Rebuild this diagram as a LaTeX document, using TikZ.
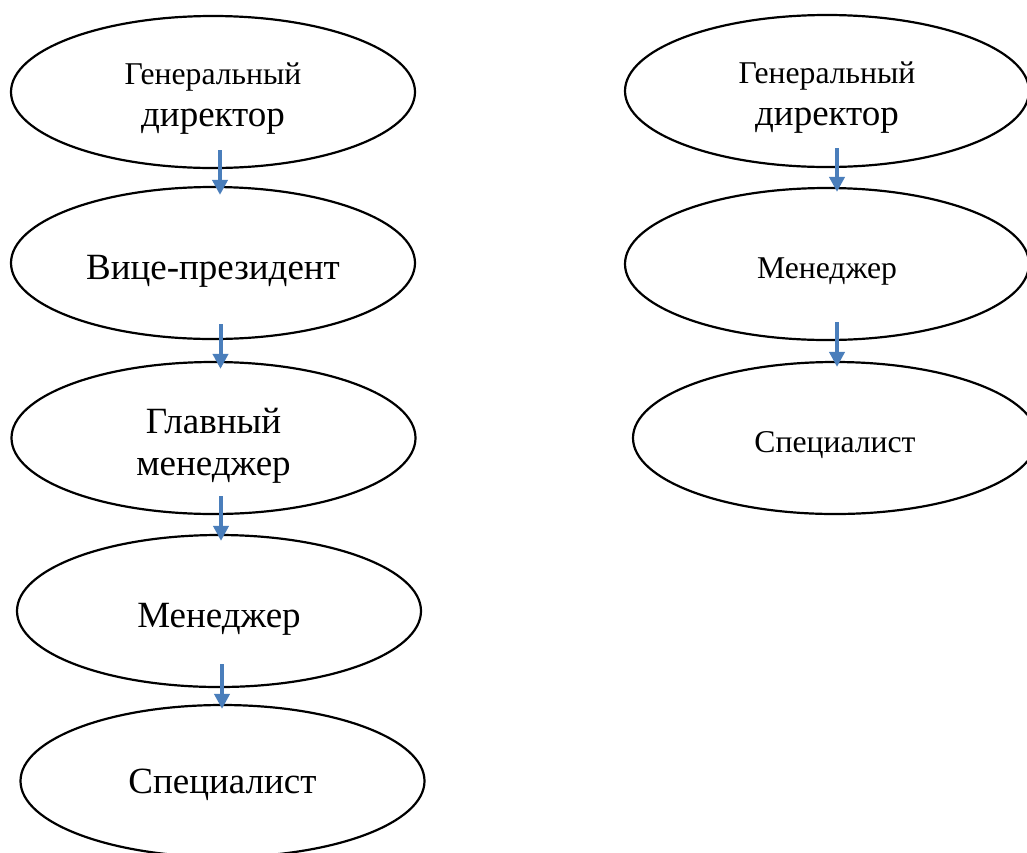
\documentclass[tikz,border=0pt]{standalone}
\usepackage{fontspec}
\setmainfont{Liberation Serif}
\usetikzlibrary{shapes.geometric,arrows.meta,calc}
\newcommand{\smallsz}{\fontsize{31.7}{38}\selectfont}
\newcommand{\bigsz}{\fontsize{37}{42}\selectfont}
\definecolor{arrowblue}{HTML}{4A7EBB}
\tikzset{
  oval/.style={ellipse, draw=black, line width=2.2pt, inner sep=0pt,
    minimum width=404pt, minimum height=152pt},
  txt/.style={align=center, font=\bigsz, inner sep=0pt},
  arr/.style={draw=arrowblue, line width=4pt,
    -{Triangle[length=15pt,width=15pt]}}
}
\begin{document}
\begin{tikzpicture}[x=1pt,y=-1pt]
\useasboundingbox (0,0) rectangle (1027,852);
% left column
\node[oval, label={[txt, yshift=-6.5pt]center:{{\smallsz Генеральный}\\директор}}] (l1) at (213,92) {};
\node[oval, label={[txt, yshift=-8pt]center:Вице-президент}] (l2) at (213,263) {};
\node[oval, label={[txt, yshift=-7.5pt]center:{Главный\\менеджер}}] (l3) at (213.5,438) {};
\node[oval, label={[txt, yshift=-8.5pt]center:Менеджер}] (l4) at (219,611) {};
\node[oval, label={[txt, yshift=-4pt]center:Специалист}] (l5) at (222.5,781) {};
% right column
\node[oval, label={[txt, yshift=-7pt]center:{{\smallsz Генеральный}\\директор}}] (r1) at (827,91) {};
\node[oval, label={[txt, font=\smallsz, yshift=-7pt]center:Менеджер}] (r2) at (827,264) {};
\node[oval, label={[txt, font=\smallsz, yshift=-7pt]center:Специалист}] (r3) at (835,438) {};
% arrows
\draw[arr] ($(l1.south)+(7,-19)$) -- ($(l2.north)+(7,9)$);
\draw[arr] ($(l2.south)+(7.5,-16)$) -- ($(l3.north)+(7,8)$);
\draw[arr] ($(l3.south)+(7.5,-19)$) -- ($(l4.north)+(2,7)$);
\draw[arr] ($(l4.south)+(3,-24)$) -- ($(l5.north)+(-0.5,5)$);
\draw[arr] ($(r1.south)+(10,-20)$) -- ($(r2.north)+(10,5)$);
\draw[arr] ($(r2.south)+(10,-19)$) -- ($(r3.north)+(2,6)$);
\end{tikzpicture}
\end{document}
